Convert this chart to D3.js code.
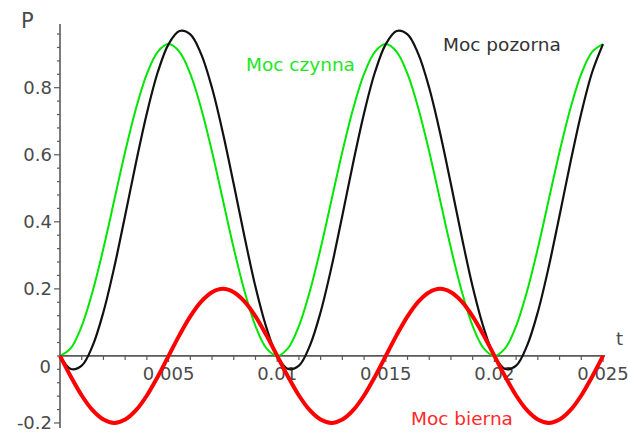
<!DOCTYPE html>
<html>
<head>
<meta charset="utf-8">
<script src="https://cdn.jsdelivr.net/npm/d3@7"></script>
<style>
  html, body { margin: 0; padding: 0; background: #fff; }
  svg { display: block; }
</style>
</head>
<body>
<div id="chart"></div>
<script>
// sample times (s), one point every 0.0005 s
const T = [
  0, 0.0005, 0.001, 0.0015, 0.002, 0.0025, 0.003, 0.0035, 0.004, 0.0045,
  0.005, 0.0055, 0.006, 0.0065, 0.007, 0.0075, 0.008, 0.0085, 0.009, 0.0095,
  0.01, 0.0105, 0.011, 0.0115, 0.012, 0.0125, 0.013, 0.0135, 0.014, 0.0145,
  0.015, 0.0155, 0.016, 0.0165, 0.017, 0.0175, 0.018, 0.0185, 0.019, 0.0195,
  0.02, 0.0205, 0.021, 0.0215, 0.022, 0.0225, 0.023, 0.0235, 0.024, 0.0245,
  0.025
];

// Moc czynna (green)
const czynna = [
  0, 0.023, 0.089, 0.192, 0.321, 0.465, 0.609, 0.738, 0.841, 0.907,
  0.93, 0.907, 0.841, 0.738, 0.609, 0.465, 0.321, 0.192, 0.089, 0.023,
  0, 0.023, 0.089, 0.192, 0.321, 0.465, 0.609, 0.738, 0.841, 0.907,
  0.93, 0.907, 0.841, 0.738, 0.609, 0.465, 0.321, 0.192, 0.089, 0.023,
  0, 0.023, 0.089, 0.192, 0.321, 0.465, 0.609, 0.738, 0.841, 0.907,
  0.93
];

// Moc pozorna (black)
const pozorna = [
  0, -0.039, -0.029, 0.03, 0.131, 0.265, 0.419, 0.577, 0.724, 0.846,
  0.93, 0.969, 0.959, 0.9, 0.799, 0.665, 0.512, 0.354, 0.206, 0.085,
  0, -0.039, -0.029, 0.03, 0.131, 0.265, 0.419, 0.577, 0.724, 0.846,
  0.93, 0.969, 0.959, 0.9, 0.799, 0.665, 0.512, 0.354, 0.206, 0.085,
  0, -0.039, -0.029, 0.03, 0.131, 0.265, 0.419, 0.577, 0.724, 0.846,
  0.93
];

// Moc bierna (red)
const bierna = [
  0, -0.062, -0.118, -0.162, -0.19, -0.2, -0.19, -0.162, -0.118, -0.062,
  0, 0.062, 0.118, 0.162, 0.19, 0.2, 0.19, 0.162, 0.118, 0.062,
  0, -0.062, -0.118, -0.162, -0.19, -0.2, -0.19, -0.162, -0.118, -0.062,
  0, 0.062, 0.118, 0.162, 0.19, 0.2, 0.19, 0.162, 0.118, 0.062,
  0, -0.062, -0.118, -0.162, -0.19, -0.2, -0.19, -0.162, -0.118, -0.062,
  0
];

const xTicks = [0.005, 0.01, 0.015, 0.02, 0.025];
const xTickLabels = ['0.005', '0.01', '0.015', '0.02', '0.025'];
const yTicks = [-0.2, 0.2, 0.4, 0.6, 0.8];
const yTickLabels = ['-0.2', '0.2', '0.4', '0.6', '0.8'];

const series = [
  { name: 'Moc czynna', values: czynna, color: '#00e600', width: 2 },
  { name: 'Moc pozorna', values: pozorna, color: '#111', width: 2.2 },
  { name: 'Moc bierna', values: bierna, color: '#ff0000', width: 4 },
];

const W = 628;
const H = 434;
const FONT = '"DejaVu Sans", sans-serif';
const AXIS = '#5a5a5a';
const TEXT = '#4a4a4a';

const x = d3.scaleLinear().domain([0, 0.025]).range([60, 603]);
const y = d3.scaleLinear().domain([-0.215, 0.99]).range([428, 24]);

const svg = d3.select('#chart').append('svg').attr('width', W).attr('height', H);

// y axis: ticks to the left, 4 minor between majors
const yMinor = d3.range(-0.2, 0.97, 0.04).map((v) => +v.toFixed(2));
svg.append('g')
  .selectAll('line')
  .data(yMinor)
  .join('line')
  .attr('x1', (d) => x(0) - (yTicks.some((t) => Math.abs(t - d) < 1e-6) ? 6 : 3))
  .attr('x2', x(0))
  .attr('y1', (d) => y(d))
  .attr('y2', (d) => y(d))
  .attr('stroke', AXIS)
  .attr('stroke-width', 1.2);

svg.append('line')
  .attr('x1', x(0)).attr('x2', x(0))
  .attr('y1', y(0.99)).attr('y2', y(-0.215))
  .attr('stroke', AXIS)
  .attr('stroke-width', 1.6);

svg.append('g')
  .selectAll('text')
  .data(yTicks)
  .join('text')
  .attr('x', x(0) - 8)
  .attr('y', (d) => y(d))
  .attr('dy', '0.36em')
  .attr('text-anchor', 'end')
  .attr('fill', TEXT)
  .attr('font-size', 18)
  .attr('font-family', FONT)
  .text((d, i) => yTickLabels[i]);

// x axis: ticks below, 4 minor between majors
const xMinor = d3.range(0.001, 0.0251, 0.001).map((v) => +v.toFixed(3));
svg.append('g')
  .selectAll('line')
  .data(xMinor)
  .join('line')
  .attr('x1', (d) => x(d))
  .attr('x2', (d) => x(d))
  .attr('y1', y(0))
  .attr('y2', (d) => y(0) + (xTicks.some((t) => Math.abs(t - d) < 1e-6) ? 6 : 4))
  .attr('stroke', AXIS)
  .attr('stroke-width', 1.2);

svg.append('line')
  .attr('x1', x(0)).attr('x2', x(0.025) + 2)
  .attr('y1', y(0)).attr('y2', y(0))
  .attr('stroke', AXIS)
  .attr('stroke-width', 1.6);

svg.append('g')
  .selectAll('text')
  .data(xTicks)
  .join('text')
  .attr('x', (d) => x(d))
  .attr('y', y(0) + 24)
  .attr('text-anchor', 'middle')
  .attr('fill', TEXT)
  .attr('font-size', 18)
  .attr('font-family', FONT)
  .text((d, i) => xTickLabels[i]);

// origin label sits below the x axis
svg.append('text')
  .attr('x', x(0) - 9)
  .attr('y', y(0) + 17)
  .attr('text-anchor', 'end')
  .attr('fill', TEXT)
  .attr('font-size', 18)
  .attr('font-family', FONT)
  .text('0');

// axis titles
svg.append('text')
  .attr('x', 21).attr('y', 28)
  .attr('fill', TEXT)
  .attr('font-size', 21)
  .attr('font-family', FONT)
  .text('P');
svg.append('text')
  .attr('x', 616).attr('y', 345)
  .attr('fill', TEXT)
  .attr('font-size', 18)
  .attr('font-family', FONT)
  .text('t');

// curves
const line = d3.line()
  .x((d) => x(d[0]))
  .y((d) => y(d[1]))
  .curve(d3.curveCatmullRom.alpha(0.5));

series.forEach((s) => {
  svg.append('path')
    .datum(T.map((t, i) => [t, s.values[i]]))
    .attr('d', line)
    .attr('fill', 'none')
    .attr('stroke', s.color)
    .attr('stroke-width', s.width)
    .attr('stroke-linejoin', 'round');
});

// curve labels
const labels = [
  { text: 'Moc czynna', x: 246, y: 71, color: '#1ee61e' },
  { text: 'Moc pozorna', x: 443, y: 51, color: '#333' },
  { text: 'Moc bierna', x: 411, y: 425, color: '#ff2a2a' },
];
svg.append('g')
  .selectAll('text')
  .data(labels)
  .join('text')
  .attr('x', (d) => d.x)
  .attr('y', (d) => d.y)
  .attr('fill', (d) => d.color)
  .attr('font-size', 18.5)
  .attr('font-family', FONT)
  .text((d) => d.text);
</script>
</body>
</html>
